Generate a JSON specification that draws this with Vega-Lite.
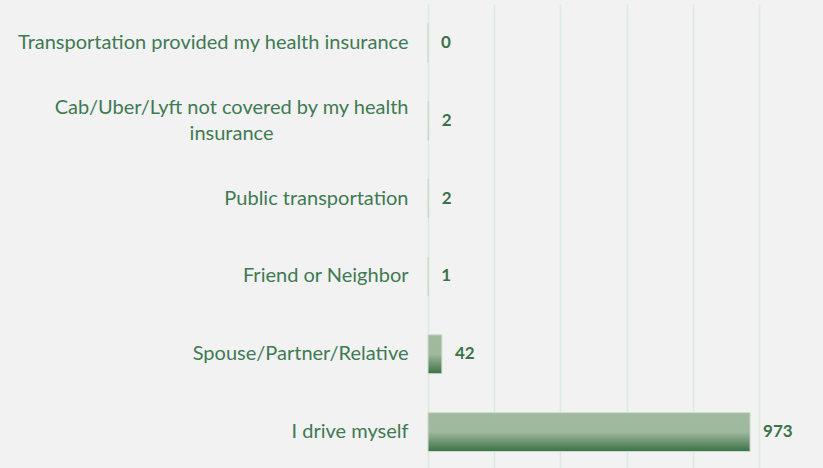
{
  "$schema": "https://vega.github.io/schema/vega-lite/v6.json",
  "width": 331,
  "height": 467,
  "autosize": "none",
  "padding": {"left": 428, "top": 4, "right": 64, "bottom": 0},
  "background": "#f2f2f2",
  "config": {"view": {"stroke": null}, "font": "Lato"},
  "data": {"values": [
    {"mode": "Transportation provided my health insurance", "count": 0},
    {"mode": "Cab/Uber/Lyft not covered by my health|insurance", "count": 2},
    {"mode": "Public transportation", "count": 2},
    {"mode": "Friend or Neighbor", "count": 1},
    {"mode": "Spouse/Partner/Relative", "count": 42},
    {"mode": "I drive myself", "count": 973}
  ]},
  "encoding": {
    "y": {"field": "mode", "type": "nominal", "sort": null, "title": null,
      "scale": {"paddingInner": 0.5, "paddingOuter": 0.25},
      "axis": {"domain": false, "ticks": false, "labelPadding": 20, "labelFontSize": 20, "labelColor": "#3f7a52", "labelFont": "Lato", "labelLimit": 428, "labelLineHeight": 26,
        "labelOffset": {"condition": {"test": "indexof(datum.value, '|') >= 0", "value": -13}, "value": 0},
        "labelExpr": "indexof(datum.value, '|') >= 0 ? [split(datum.value, '|')[0], split(datum.value, '|')[1] + '\u2003\u2003\u2003\u2003\u2003\u2003\u2003\u2003\u2003\u200b'] : datum.value"}},
    "x": {"field": "count", "type": "quantitative", "title": null,
      "scale": {"domain": [0, 1000], "nice": false},
      "axis": {"values": [0, 200, 400, 600, 800, 1000], "labels": false, "ticks": false, "domain": false, "grid": true, "gridColor": "#dcebe0", "gridWidth": 1.5}}
  },
  "layer": [
    {"mark": {"type": "bar", "stroke": "#cfdccf", "strokeWidth": 1,
      "color": {"gradient": "linear", "x1": 0, "y1": 0, "x2": 0, "y2": 1,
        "stops": [{"offset": 0, "color": "#a0ba9f"}, {"offset": 0.5, "color": "#9fb99e"}, {"offset": 1, "color": "#3b7146"}]}}},
    {"mark": {"type": "text", "align": "left", "dx": 13, "fontSize": 17, "fontWeight": "bold", "color": "#3a7249", "font": "Lato"},
      "encoding": {"text": {"field": "count", "type": "quantitative"}}}
  ]
}
